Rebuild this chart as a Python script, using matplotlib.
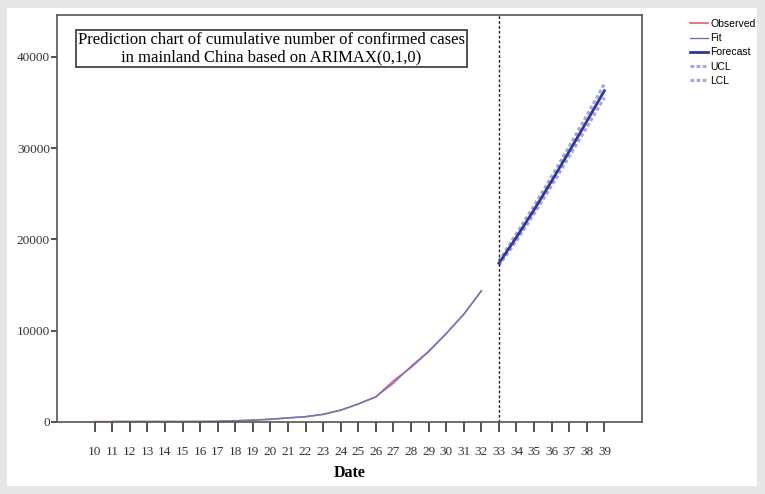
import numpy as np
import matplotlib.pyplot as plt
from matplotlib.patches import Rectangle

# day index on the x axis
days = list(range(10, 40))
obs_days = list(range(10, 33))
fit_days = list(range(11, 33))
fc_days = list(range(33, 40))

observed = [41, 41, 41, 41, 41, 41, 45, 62, 121, 198, 291, 440, 571, 830,
            1287, 1975, 2744, 4515, 5974, 7711, 9692, 11791, 14380]
fitted = [60, 60, 60, 60, 60, 64, 80, 140, 215, 310, 460, 590, 850,
          1310, 1990, 2770, 4250, 6100, 7750, 9680, 11820, 14350]
forecast = [17400, 20250, 23250, 26400, 29650, 32950, 36300]
ucl = [17650, 20650, 23700, 26900, 30200, 33600, 37050]
lcl = [17150, 19850, 22800, 25900, 29100, 32300, 35550]

serif = 'Liberation Serif'
sans = 'Liberation Sans'

fig = plt.figure(figsize=(7.65, 4.94), dpi=100)
fig.patch.set_facecolor('#e6e6e6')
# white panel behind everything
fig.add_artist(Rectangle((7 / 765, 8 / 494), 750 / 765, 478 / 494,
                         transform=fig.transFigure, facecolor='white',
                         edgecolor='none', zorder=-10))

ax = fig.add_axes([57 / 765, 1 - 422 / 494, 585 / 765, 407 / 494])
ax.set_facecolor('white')

ax.plot(obs_days, observed, color='#e06070', lw=1.2, label='Observed')
ax.plot(fit_days, fitted, color='#6a78c0', lw=1.0, label='Fit')
ax.plot(fc_days, forecast, color='#2c3a94', lw=2.0, label='Forecast', zorder=4)
ax.plot(fc_days, ucl, color='#a8a4dc', lw=2.2, ls=(0, (1.2, 0.8)), label='UCL')
ax.plot(fc_days, lcl, color='#a8a4dc', lw=2.2, ls=(0, (1.2, 0.8)), label='LCL')
ax.axvline(33, color='#222222', lw=1.0, ls=(0, (2, 1.5)))

ax.set_xlim(7.86, 41.14)
ax.set_ylim(0, 44600)
ax.set_xticks(days)
ax.set_xticklabels([str(d) for d in days], fontsize=9.5, family=serif)
ax.set_yticks([0, 10000, 20000, 30000, 40000])
ax.set_yticklabels(['0', '10000', '20000', '30000', '40000'], fontsize=9.5, family=serif)
ax.tick_params(axis='x', direction='out', length=7, width=1.2, pad=10, colors='#333333')
ax.tick_params(axis='y', direction='out', length=4, width=1.2, pad=1, colors='#333333')
for s in ax.spines.values():
    s.set_color('#555555')
    s.set_linewidth(1.2)

ax.set_xlabel('Date', fontsize=11.5, family=serif, fontweight='bold', labelpad=5)

ax.text(0.366, 0.918,
        'Prediction chart of cumulative number of confirmed cases\n'
        'in mainland China based on ARIMAX(0,1,0)',
        transform=ax.transAxes, ha='center', va='center', fontsize=12,
        family=serif, linespacing=1.1,
        bbox=dict(boxstyle='square,pad=0.12', facecolor='white',
                  edgecolor='#444444', lw=1.3))

fig.legend(loc='upper left', bbox_to_anchor=(690 / 765, 1 - 19 / 494),
           frameon=False, prop={'family': sans, 'size': 7.5},
           handlelength=1.7, handletextpad=0.25, labelspacing=0.4,
           borderpad=0, borderaxespad=0)

fig.savefig('out.png', dpi=100, facecolor=fig.get_facecolor())
